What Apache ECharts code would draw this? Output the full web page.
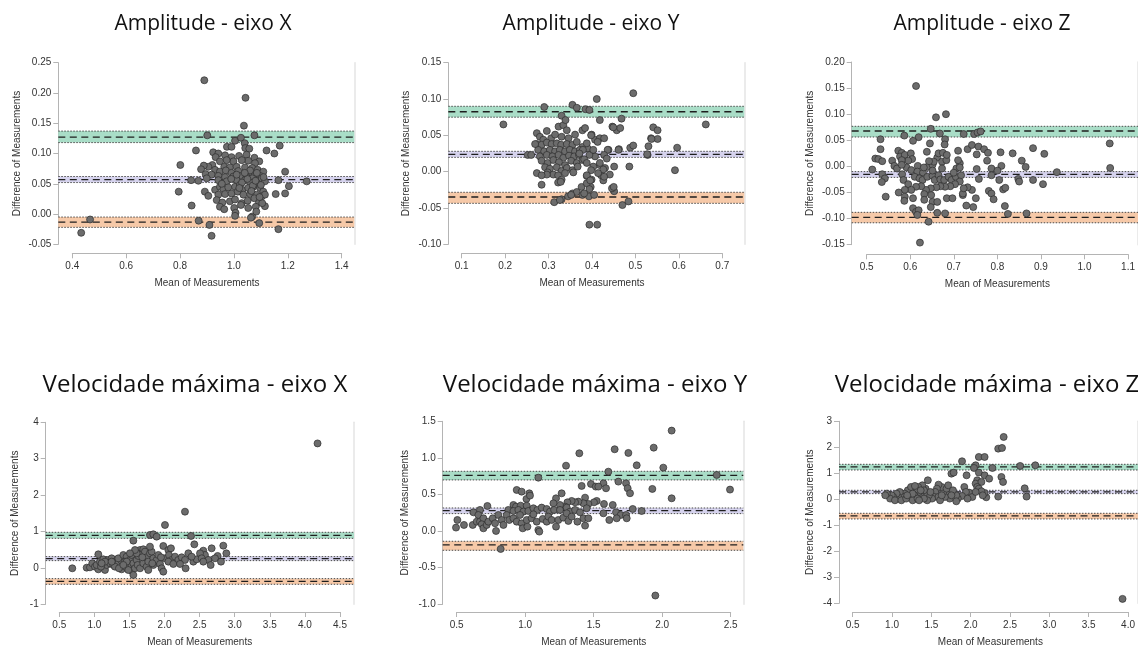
<!DOCTYPE html>
<html>
<head>
<meta charset="utf-8">
<script src="https://cdn.jsdelivr.net/npm/echarts@6/dist/echarts.min.js"></script>
<style>
html, body { margin: 0; background: #fff; }
#chart { width: 1138px; height: 648px; }
</style>
</head>
<body>
<div id="chart"></div>
<script>
// panel titles
var titles = ['Amplitude - eixo X', 'Amplitude - eixo Y', 'Amplitude - eixo Z',
  'Velocidade máxima - eixo X', 'Velocidade máxima - eixo Y', 'Velocidade máxima - eixo Z'];

// x ticks [min, max, step] and y ticks [min, max, step], decimals of labels
var xTicks = [[0.4, 1.4, 0.2], [0.1, 0.7, 0.1], [0.5, 1.1, 0.1], [0.5, 4.5, 0.5], [0.5, 2.5, 0.5], [0.5, 4.0, 0.5]];
var yTicks = [[-0.05, 0.25, 0.05], [-0.10, 0.15, 0.05], [-0.15, 0.20, 0.05], [-1, 4, 1], [-1.0, 1.5, 0.5], [-4, 3, 1]];
var xDecimals = [1, 1, 1, 1, 1, 1];
var yDecimals = [2, 2, 2, 0, 1, 0];

// limits of agreement [lower CI, estimate, upper CI]
var upperLoA = [[0.118, 0.127, 0.137], [0.075, 0.0825, 0.090], [0.0563, 0.0678, 0.0768], [0.813, 0.896, 0.978], [0.699, 0.762, 0.817], [1.128, 1.244, 1.346]];
var meanDiff = [[0.052, 0.057, 0.062], [0.0197, 0.0239, 0.028], [-0.021, -0.0152, -0.010], [0.20, 0.255, 0.31], [0.239, 0.280, 0.316], [0.218, 0.282, 0.346]];
var lowerLoA = [[-0.022, -0.0135, -0.005], [-0.0436, -0.0349, -0.0284], [-0.108, -0.0976, -0.088], [-0.45, -0.368, -0.295], [-0.262, -0.189, -0.139], [-0.756, -0.641, -0.538]];

// [mean, difference]
var ampX = [[0.890,0.221],[1.043,0.192],[1.037,0.146],[0.901,0.130],[1.076,0.130],[1.004,0.121],[1.026,0.126],[0.859,0.105],[0.974,0.111],[0.991,0.111],[1.040,0.117],[1.042,0.109],[1.057,0.108],[1.121,0.105],[1.150,0.100],[1.170,0.113],[0.923,0.102],[0.942,0.100],[0.932,0.094],[0.967,0.097],[0.991,0.094],[1.019,0.096],[1.047,0.098],[1.076,0.093],[1.094,0.087],[1.078,0.084],[1.053,0.088],[1.029,0.089],[0.998,0.087],[0.973,0.089],[0.948,0.087],[0.920,0.081],[0.905,0.078],[0.888,0.080],[0.878,0.074],[0.801,0.081],[0.964,0.078],[0.985,0.077],[1.010,0.078],[1.041,0.077],[1.068,0.076],[1.088,0.073],[1.109,0.070],[0.930,0.073],[0.948,0.070],[0.970,0.072],[0.991,0.068],[1.016,0.071],[1.060,0.067],[1.078,0.065],[1.097,0.063],[0.895,0.066],[0.917,0.065],[0.942,0.063],[0.967,0.061],[0.998,0.062],[1.029,0.063],[1.047,0.061],[1.068,0.059],[1.103,0.059],[1.115,0.054],[0.841,0.056],[0.868,0.055],[0.899,0.059],[0.942,0.056],[0.973,0.054],[1.010,0.056],[1.041,0.056],[1.060,0.052],[1.084,0.051],[1.190,0.070],[1.165,0.056],[1.270,0.054],[1.204,0.046],[1.190,0.034],[1.155,0.033],[0.795,0.037],[0.892,0.037],[0.905,0.030],[0.930,0.040],[0.948,0.045],[0.961,0.041],[0.979,0.044],[1.004,0.045],[1.022,0.048],[1.031,0.040],[1.053,0.043],[1.072,0.045],[1.097,0.043],[1.109,0.037],[0.942,0.032],[0.967,0.033],[0.991,0.034],[1.014,0.037],[1.035,0.032],[1.060,0.033],[1.084,0.032],[1.103,0.029],[1.115,0.032],[0.936,0.023],[0.957,0.019],[0.985,0.021],[1.004,0.024],[1.029,0.018],[1.051,0.022],[1.076,0.026],[1.093,0.019],[1.115,0.013],[0.843,0.014],[0.948,0.012],[0.964,0.008],[1.001,0.010],[1.026,0.015],[1.053,0.010],[1.081,0.012],[1.105,0.018],[1.006,0.002],[1.004,-0.003],[1.068,-0.004],[1.083,0.004],[0.869,-0.011],[0.909,-0.018],[0.917,-0.036],[1.094,-0.015],[1.165,-0.025],[1.063,-0.006],[0.433,-0.031],[0.466,-0.009],[1.010,0.065],[1.030,0.052],[1.050,0.058],[1.070,0.047],[1.085,0.068],[1.100,0.048],[1.060,0.072],[0.990,0.058],[0.955,0.050],[1.020,0.043],[1.040,0.068],[1.080,0.055],[1.110,0.061],[1.095,0.028],[1.065,0.038]];

var ampY = [[0.273,0.053],[0.280,0.048],[0.296,0.056],[0.288,0.044],[0.306,0.046],[0.323,0.062],[0.334,0.064],[0.342,0.057],[0.315,0.051],[0.330,0.048],[0.346,0.046],[0.361,0.051],[0.378,0.057],[0.384,0.060],[0.399,0.051],[0.407,0.044],[0.418,0.046],[0.428,0.046],[0.273,0.038],[0.284,0.037],[0.296,0.040],[0.307,0.038],[0.319,0.039],[0.329,0.037],[0.342,0.038],[0.355,0.037],[0.365,0.041],[0.378,0.034],[0.390,0.032],[0.276,0.030],[0.290,0.028],[0.303,0.030],[0.315,0.028],[0.326,0.030],[0.338,0.028],[0.349,0.030],[0.361,0.028],[0.372,0.030],[0.252,0.023],[0.260,0.023],[0.280,0.021],[0.296,0.023],[0.309,0.021],[0.323,0.023],[0.334,0.019],[0.347,0.022],[0.359,0.021],[0.370,0.023],[0.401,0.024],[0.284,0.015],[0.298,0.012],[0.311,0.016],[0.324,0.013],[0.338,0.009],[0.352,0.015],[0.365,0.012],[0.378,0.016],[0.292,0.006],[0.303,0.004],[0.319,0.006],[0.330,0.001],[0.342,0.005],[0.355,0.002],[0.367,0.007],[0.273,-0.002],[0.298,-0.001],[0.311,-0.004],[0.322,-0.005],[0.338,-0.002],[0.357,-0.001],[0.322,-0.015],[0.330,-0.011],[0.284,-0.018],[0.388,-0.006],[0.399,-0.011],[0.397,-0.021],[0.418,0.009],[0.430,0.005],[0.421,-0.005],[0.441,-0.004],[0.451,0.007],[0.426,-0.012],[0.486,0.007],[0.530,0.035],[0.536,0.046],[0.551,0.045],[0.541,0.061],[0.551,0.057],[0.596,0.033],[0.591,0.002],[0.528,0.023],[0.488,0.033],[0.495,0.036],[0.447,0.062],[0.457,0.057],[0.465,0.060],[0.468,0.073],[0.418,0.071],[0.411,0.100],[0.495,0.108],[0.290,0.089],[0.355,0.092],[0.365,0.088],[0.385,0.086],[0.394,0.085],[0.330,0.077],[0.339,0.071],[0.196,0.065],[0.438,0.030],[0.462,0.031],[0.451,-0.027],[0.446,-0.023],[0.470,-0.046],[0.484,-0.041],[0.394,-0.073],[0.412,-0.073],[0.313,-0.042],[0.330,-0.038],[0.345,-0.034],[0.355,-0.030],[0.365,-0.028],[0.378,-0.032],[0.393,-0.034],[0.405,-0.032],[0.326,-0.039],[0.376,-0.021],[0.388,-0.016],[0.296,-0.004],[0.284,-0.005],[0.328,-0.014],[0.413,0.041],[0.269,0.038],[0.662,0.065],[0.436,0.030],[0.428,0.023],[0.434,0.018],[0.426,0.003],[0.414,-0.002],[0.428,-0.007],[0.450,-0.021],[0.403,0.007],[0.418,0.012],[0.407,0.021],[0.394,0.023],[0.403,0.030],[0.398,0.050],[0.388,0.039],[0.379,0.030],[0.371,0.025],[0.382,0.017],[0.388,0.012],[0.398,0.002],[0.388,-0.005],[0.396,-0.012],[0.394,-0.024],[0.382,-0.030],[0.352,-0.032],[0.537,0.045],[0.527,0.024],[0.461,0.030],[0.449,0.061]];

var ampZ = [[0.615,0.154],[0.661,0.094],[0.684,0.100],[0.649,0.072],[0.670,0.063],[0.725,0.062],[0.749,0.062],[0.757,0.065],[0.764,0.067],[0.588,0.059],[0.621,0.056],[0.533,0.052],[0.608,0.049],[0.647,0.044],[0.682,0.052],[0.681,0.042],[0.533,0.033],[0.712,0.030],[0.734,0.033],[0.744,0.041],[0.759,0.038],[0.772,0.033],[0.781,0.026],[0.755,0.023],[0.810,0.027],[0.838,0.025],[0.885,0.035],[0.911,0.024],[0.859,0.011],[0.868,-0.001],[0.940,-0.011],[0.812,0.001],[0.789,-0.004],[0.755,-0.005],[0.779,0.011],[0.803,-0.008],[0.789,-0.017],[0.807,-0.026],[0.851,-0.024],[0.853,-0.029],[0.885,-0.026],[0.908,-0.034],[0.816,-0.044],[0.821,-0.041],[0.783,-0.047],[0.789,-0.052],[0.794,-0.063],[0.760,-0.024],[0.744,-0.045],[0.753,-0.061],[0.734,-0.040],[0.723,-0.055],[0.731,-0.075],[0.747,-0.078],[0.820,-0.076],[0.827,-0.091],[0.870,-0.090],[0.521,0.015],[0.528,0.014],[0.537,0.010],[0.514,-0.006],[0.560,0.011],[0.565,0.001],[0.571,-0.004],[0.537,-0.015],[0.543,-0.023],[0.536,-0.030],[0.545,-0.058],[0.574,0.030],[0.582,0.026],[0.578,0.019],[0.589,0.022],[0.603,0.025],[0.606,0.014],[0.597,0.011],[0.593,-0.002],[0.604,-0.007],[0.619,0.001],[0.618,-0.010],[0.631,-0.012],[0.641,-0.001],[0.653,0.003],[0.664,0.017],[0.675,0.009],[0.685,0.012],[0.667,0.025],[0.677,0.026],[0.686,0.022],[0.640,0.028],[0.656,0.009],[0.645,0.010],[0.633,-0.002],[0.583,-0.015],[0.586,-0.026],[0.597,-0.034],[0.612,-0.020],[0.623,-0.023],[0.630,-0.026],[0.641,-0.020],[0.653,-0.018],[0.658,-0.026],[0.667,-0.017],[0.671,-0.025],[0.680,-0.026],[0.690,-0.020],[0.697,-0.026],[0.707,-0.020],[0.708,-0.004],[0.716,0.006],[0.716,-0.002],[0.702,-0.012],[0.719,-0.017],[0.716,-0.029],[0.705,-0.034],[0.694,-0.038],[0.682,-0.039],[0.671,-0.038],[0.662,-0.040],[0.649,-0.042],[0.638,-0.045],[0.627,-0.038],[0.615,-0.039],[0.604,-0.045],[0.589,-0.045],[0.575,-0.050],[0.589,-0.058],[0.588,-0.066],[0.608,-0.061],[0.634,-0.053],[0.634,-0.064],[0.650,-0.055],[0.653,-0.068],[0.664,-0.068],[0.649,-0.078],[0.686,-0.061],[0.699,-0.061],[0.723,-0.052],[0.725,-0.042],[0.608,-0.080],[0.615,-0.087],[0.621,-0.084],[0.618,-0.093],[0.664,-0.089],[0.682,-0.090],[0.644,-0.106],[0.624,-0.146],[0.582,0.012],[0.712,0.012],[0.582,0.003],[0.675,-0.004],[0.653,-0.008],[1.062,0.044],[1.063,-0.003]];

var velX = [[2.291,1.545],[2.006,1.179],[1.792,0.904],[1.840,0.923],[1.887,0.859],[1.555,0.749],[2.377,0.877],[2.424,0.648],[1.982,0.602],[2.837,0.611],[2.671,0.538],[2.054,0.492],[2.091,0.538],[2.552,0.474],[2.576,0.355],[2.880,0.401],[2.756,0.328],[1.056,0.373],[0.685,-0.011],[0.890,0.007],[0.937,0.016],[0.970,0.126],[1.008,0.035],[1.056,-0.039],[1.032,0.080],[1.080,0.172],[1.151,-0.057],[1.127,0.236],[1.198,0.218],[1.246,0.263],[1.293,0.172],[1.175,0.080],[1.222,0.126],[1.270,0.080],[1.341,0.126],[1.388,0.199],[1.341,0.263],[1.412,0.355],[1.460,0.309],[1.436,0.172],[1.388,-0.039],[1.483,0.053],[1.507,0.218],[1.531,0.355],[1.555,0.126],[1.531,-0.075],[1.555,-0.194],[1.578,-0.011],[1.602,0.218],[1.626,0.328],[1.650,0.492],[1.673,0.401],[1.697,0.511],[1.721,0.447],[1.616,0.080],[1.650,-0.011],[1.697,0.126],[1.745,0.291],[1.745,0.035],[1.768,0.172],[1.792,0.401],[1.816,0.447],[1.840,0.263],[1.840,0.080],[1.887,0.218],[1.935,0.108],[1.958,-0.011],[1.982,-0.103],[2.006,0.263],[2.063,0.355],[2.101,0.218],[2.149,0.309],[2.196,0.218],[2.244,0.291],[2.291,0.218],[2.300,-0.011],[2.339,0.401],[2.410,0.172],[2.457,0.236],[2.505,0.401],[2.529,0.263],[2.624,0.218],[2.657,0.080],[2.719,0.263],[2.804,0.172],[1.094,0.035],[1.151,0.172],[1.436,0.035],[1.483,-0.057],[1.293,0.035],[1.350,-0.011],[1.768,-0.057],[1.825,0.126],[1.911,0.355],[1.949,0.291],[2.054,0.172],[2.125,0.108],[2.220,0.108],[2.386,0.309],[2.552,0.172],[1.792,0.584],[1.602,0.401],[1.578,0.492],[1.683,0.291],[1.507,0.401],[1.460,0.172],[1.412,0.080],[1.246,0.172],[1.103,0.126],[4.180,3.420]];

var velY = [[2.069,1.373],[1.938,1.140],[1.653,1.118],[1.753,1.068],[1.395,1.063],[1.298,0.894],[1.814,0.899],[2.008,0.867],[1.607,0.812],[1.096,0.730],[2.398,0.767],[1.680,0.676],[1.736,0.653],[1.748,0.585],[1.765,0.517],[1.571,0.653],[1.480,0.644],[1.515,0.608],[1.534,0.608],[1.412,0.617],[1.590,0.585],[1.928,0.576],[2.069,0.448],[2.495,0.567],[0.938,0.562],[0.974,0.539],[1.030,0.516],[1.009,0.439],[1.035,0.485],[1.266,0.516],[1.225,0.448],[1.437,0.457],[1.522,0.412],[1.502,0.393],[1.461,0.371],[1.425,0.380],[1.388,0.403],[1.364,0.393],[1.339,0.412],[1.308,0.393],[1.291,0.334],[1.254,0.357],[1.206,0.380],[1.575,0.371],[1.639,0.357],[1.785,0.302],[1.850,0.275],[0.724,0.343],[0.914,0.357],[0.933,0.334],[0.967,0.348],[1.011,0.348],[0.877,0.289],[0.914,0.275],[0.950,0.289],[0.987,0.266],[1.023,0.275],[1.060,0.312],[1.089,0.289],[1.120,0.321],[1.157,0.302],[1.181,0.266],[1.211,0.289],[1.254,0.289],[1.303,0.321],[1.327,0.266],[1.364,0.289],[1.400,0.257],[1.449,0.312],[1.571,0.243],[1.614,0.152],[1.663,0.257],[1.697,0.220],[1.736,0.220],[1.741,0.175],[1.668,0.175],[0.622,0.257],[0.670,0.289],[0.658,0.220],[0.505,0.152],[0.495,0.048],[0.553,0.084],[0.617,0.084],[0.646,0.129],[0.670,0.129],[0.695,0.175],[0.683,0.093],[0.695,0.038],[0.719,0.084],[0.731,0.129],[0.763,0.175],[0.780,0.107],[0.787,0.002],[0.804,0.220],[0.829,0.152],[0.841,0.084],[0.865,0.220],[0.884,0.152],[0.914,0.175],[0.938,0.129],[0.962,0.220],[0.974,0.107],[0.982,0.038],[1.016,0.061],[1.011,0.152],[1.047,0.175],[1.060,0.229],[1.084,0.129],[1.096,0.016],[1.103,-0.007],[1.128,0.166],[1.157,0.129],[1.169,0.198],[1.193,0.152],[1.225,0.061],[1.242,0.152],[1.278,0.184],[1.303,0.243],[1.315,0.139],[1.339,0.198],[1.381,0.129],[1.425,0.175],[1.437,0.075],[1.461,0.175],[0.821,-0.244],[1.950,-0.880]];

var velZ = [[2.438,2.398],[2.368,1.949],[2.417,1.975],[2.120,1.628],[2.194,1.628],[1.905,1.462],[1.769,0.987],[1.798,1.026],[2.079,1.308],[2.649,1.282],[2.843,1.308],[2.058,1.205],[2.120,1.026],[1.963,0.923],[2.194,0.923],[2.099,0.731],[2.252,0.795],[2.409,0.859],[2.430,0.667],[2.294,1.205],[2.079,0.603],[2.153,0.667],[2.099,0.474],[2.707,0.423],[2.731,0.103],[2.368,0.103],[2.215,0.077],[2.194,0.244],[1.996,0.257],[2.037,0.090],[2.120,0.410],[2.153,0.308],[2.170,0.154],[2.079,0.282],[1.934,0.474],[1.955,0.282],[1.905,0.128],[1.975,0.026],[1.851,0.026],[1.831,0.154],[1.831,-0.077],[1.748,0.026],[1.728,0.218],[1.686,0.090],[1.665,0.282],[1.645,0.474],[1.604,0.564],[1.583,0.410],[1.562,0.282],[1.550,0.090],[1.603,0.090],[1.624,-0.038],[1.521,0.026],[1.480,0.154],[1.459,-0.038],[1.467,0.731],[1.438,0.410],[1.417,0.218],[1.376,0.154],[1.355,0.282],[1.397,0.539],[1.343,0.474],[1.314,0.346],[1.294,0.154],[1.252,0.282],[1.232,0.090],[1.211,0.346],[1.170,0.218],[1.149,0.090],[1.108,0.282],[1.087,0.090],[1.066,0.218],[1.025,0.090],[1.004,0.154],[0.984,0.026],[0.942,0.218],[0.922,0.154],[1.046,-0.038],[1.128,-0.038],[1.190,0.026],[1.273,-0.038],[1.335,0.026],[1.417,0.026],[1.500,0.282],[1.707,0.410],[1.728,0.539],[1.789,0.346],[1.769,0.154],[1.252,0.474],[1.302,0.513],[1.355,-0.038],[1.645,0.154],[1.417,0.346],[1.273,0.218],[1.376,0.346],[1.203,0.154],[3.960,-3.830]];

var panelData = [ampX, ampY, ampZ, velX, velY, velZ];

// pixel layout of each panel: y axis x, top, bottom, right edge, x axis from/to, x axis y, y name gap, title centre and size
var layout = [
  { gl: 58.3, top: 62.7, bottom: 244.3, gr: 354.3, xl: 72.3, xr: 341.7, ax: 253.3, gap: 36, tx: 198, ty: 22, ts: 21 },
  { gl: 448.3, top: 62.7, bottom: 244.3, gr: 744.3, xl: 461.7, xr: 722.3, ax: 253.3, gap: 37, tx: 586, ty: 22, ts: 21 },
  { gl: 851.7, top: 62, bottom: 244.7, gr: 1147.7, xl: 866.7, xr: 1135.5, ax: 254.3, gap: 36, tx: 977, ty: 22, ts: 21 },
  { gl: 45.7, top: 422.3, bottom: 604.3, gr: 354, xl: 59.3, xr: 340, ax: 613.7, gap: 25, tx: 190, ty: 384, ts: 24 },
  { gl: 442.7, top: 421.3, bottom: 604.3, gr: 743.3, xl: 456.7, xr: 730.7, ax: 613.3, gap: 32, tx: 590, ty: 384, ts: 24 },
  { gl: 839, top: 421.3, bottom: 603.3, gr: 1147, xl: 852.7, xr: 1134.3, ax: 613.7, gap: 24, tx: 982, ty: 384, ts: 24 }
];

var textFont = '"Liberation Sans", Arial, sans-serif';
var axisGray = '#b4b4b4';
var bandColors = ['#a9ddc7', '#d6d3ee', '#f6c9a8'];

function fmt(d) {
  return function (v) {
    if (Math.abs(v) < 1e-9) v = 0;
    return v.toFixed(d);
  };
}

var option = { animation: false, title: [], grid: [], xAxis: [], yAxis: [], series: [] };

layout.forEach(function (L, i) {
  var xt = xTicks[i], yt = yTicks[i];
  var ppu = (L.xr - L.xl) / (xt[1] - xt[0]);
  var dxMin = xt[0] - (L.xl - L.gl) / ppu;
  var dxMax = xt[0] + (L.gr - L.xl) / ppu;
  var h = L.bottom - L.top;

  option.title.push({
    text: titles[i], left: L.tx, top: L.ty - L.ts * 0.65, textAlign: 'center',
    textStyle: { fontFamily: '"Open Sans", "Noto Sans", sans-serif', fontSize: L.ts, fontWeight: 'normal', color: '#111' }
  });

  // data grid
  var g = option.grid.length;
  option.grid.push({ left: L.gl, top: L.top, width: L.gr - L.gl, height: h });
  // grid carrying the range-frame x axis
  option.grid.push({ left: L.xl, top: L.top, width: L.xr - L.xl, height: h });

  var xi = option.xAxis.length;
  option.xAxis.push({ type: 'value', gridIndex: g, min: dxMin, max: dxMax, show: false });
  option.xAxis.push({
    type: 'value', gridIndex: g + 1, min: xt[0], max: xt[1], interval: xt[2],
    position: 'bottom', offset: L.ax - L.bottom,
    name: 'Mean of Measurements', nameLocation: 'middle', nameGap: 25,
    nameTextStyle: { fontFamily: textFont, fontSize: 10, color: '#333' },
    axisLine: { show: true, onZero: false, lineStyle: { color: axisGray, width: 1 } },
    axisTick: { show: true, length: 5, lineStyle: { color: axisGray } },
    axisLabel: { fontFamily: textFont, fontSize: 10, color: '#333', margin: 8, formatter: fmt(xDecimals[i]), showMinLabel: true, showMaxLabel: true },
    splitLine: { show: false }
  });

  var yi = option.yAxis.length;
  option.yAxis.push({
    type: 'value', gridIndex: g, position: 'left', min: yt[0], max: yt[1], interval: yt[2],
    name: 'Difference of Measurements', nameLocation: 'middle', nameGap: L.gap,
    nameTextStyle: { fontFamily: textFont, fontSize: 10, color: '#333' },
    axisLine: { show: true, onZero: false, lineStyle: { color: axisGray, width: 1 } },
    axisTick: { show: true, length: 5, lineStyle: { color: axisGray } },
    axisLabel: { fontFamily: textFont, fontSize: 10, color: '#333', margin: 7, formatter: fmt(yDecimals[i]), showMinLabel: true, showMaxLabel: true },
    splitLine: { show: false }
  });
  option.yAxis.push({ type: 'value', gridIndex: g + 1, min: yt[0], max: yt[1], show: false });
  option.yAxis.push({
    type: 'value', gridIndex: g, position: 'right', min: yt[0], max: yt[1],
    axisLine: { show: true, onZero: false, lineStyle: { color: '#e4e4e4', width: 1.5 } },
    axisTick: { show: false }, axisLabel: { show: false }, splitLine: { show: false }
  });

  // shaded confidence bands
  var bands = [upperLoA[i], meanDiff[i], lowerLoA[i]];
  var areas = bands.map(function (b, k) {
    return [{ yAxis: b[0], itemStyle: { color: bandColors[k] } }, { yAxis: b[2] }];
  });
  option.series.push({
    type: 'scatter', xAxisIndex: xi, yAxisIndex: yi, data: [], z: 1, silent: true,
    markArea: { silent: true, data: areas }
  });

  // horizontal lines as line series (markLine rounds values to the axis precision)
  function hline(v, style) {
    option.series.push({
      type: 'line', xAxisIndex: xi, yAxisIndex: yi, z: 2, silent: true,
      showSymbol: false, symbol: 'none',
      data: [[dxMin, v], [dxMax, v]],
      lineStyle: style
    });
  }
  bands.forEach(function (b) {
    hline(b[0], { color: '#4a4a4a', width: 1, type: [1.5, 1.5] });
    hline(b[2], { color: '#4a4a4a', width: 1, type: [1.5, 1.5] });
    hline(b[1], { color: '#1e1e1e', width: 1.3, type: [7, 4.5] });
  });

  option.series.push({
    type: 'scatter', xAxisIndex: xi, yAxisIndex: yi, data: panelData[i], z: 5,
    symbolSize: 7,
    itemStyle: { color: '#6c6c6c', borderColor: '#2e2e2e', borderWidth: 0.7, opacity: 1 }
  });
});

var chart = echarts.init(document.getElementById('chart'));
chart.setOption(option);
window.addEventListener('resize', function () { chart.resize(); });
</script>
</body>
</html>
